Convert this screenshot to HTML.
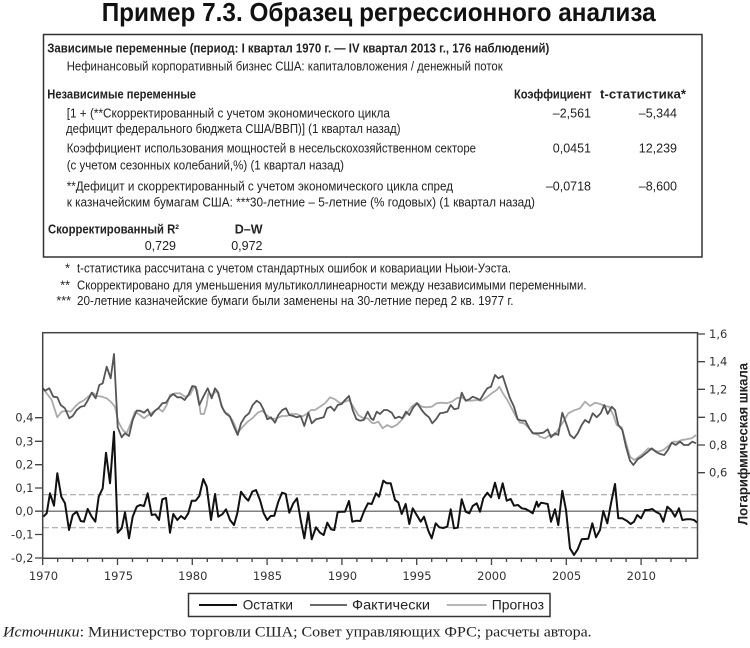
<!DOCTYPE html>
<html>
<head>
<meta charset="utf-8">
<style>
html,body{margin:0;padding:0;background:#fff;}
svg{display:block;}
.n{font-family:"Liberation Sans Narrow","Liberation Sans",sans-serif;}
.t{font-family:"DejaVu Sans","Liberation Sans",sans-serif;}
.s{font-family:"Liberation Serif",serif;}
</style>
</head>
<body>
<svg width="750" height="648" viewBox="0 0 750 648" xmlns="http://www.w3.org/2000/svg">
<rect width="750" height="648" fill="#fff"/>

<!-- Title -->
<text class="n" x="101.7" y="21" font-size="26" font-weight="bold" fill="#111" textLength="554" lengthAdjust="spacingAndGlyphs">Пример 7.3. Образец регрессионного анализа</text>

<!-- Table box -->
<rect x="43.5" y="34.5" width="658.5" height="222.5" fill="none" stroke="#333" stroke-width="1.5"/>

<g class="n" font-size="12.5" fill="#222">
<text x="47.3" y="52.7" font-weight="bold" textLength="502" lengthAdjust="spacingAndGlyphs">Зависимые переменные (период: I квартал 1970 г. — IV квартал 2013 г., 176 наблюдений)</text>
<text x="66.7" y="70.5" textLength="436" lengthAdjust="spacingAndGlyphs">Нефинансовый корпоративный бизнес США: капиталовложения / денежный поток</text>
<text x="47.3" y="98.3" font-weight="bold" textLength="148.7" lengthAdjust="spacingAndGlyphs">Независимые переменные</text>
<text x="514" y="98.3" font-weight="bold" textLength="77.7" lengthAdjust="spacingAndGlyphs">Коэффициент</text>
<text x="600" y="98.3" font-weight="bold" textLength="86" lengthAdjust="spacingAndGlyphs">t-статистика*</text>

<text x="66.7" y="117.3" textLength="323.3" lengthAdjust="spacingAndGlyphs">[1 + (**Скорректированный с учетом экономического цикла</text>
<text x="591" y="117.3" text-anchor="end">–2,561</text>
<text x="677" y="117.3" text-anchor="end">–5,344</text>
<text x="66" y="133" textLength="334.5" lengthAdjust="spacingAndGlyphs">дефицит федерального бюджета США/ВВП)] (1 квартал назад)</text>

<text x="66.7" y="152.5" textLength="409.3" lengthAdjust="spacingAndGlyphs">Коэффициент использования мощностей в несельскохозяйственном секторе</text>
<text x="591" y="152.5" text-anchor="end">0,0451</text>
<text x="677" y="152.5" text-anchor="end">12,239</text>
<text x="66.7" y="169.5" textLength="277.3" lengthAdjust="spacingAndGlyphs">(с учетом сезонных колебаний,%) (1 квартал назад)</text>

<text x="66.7" y="190.5" textLength="386.3" lengthAdjust="spacingAndGlyphs">**Дефицит и скорректированный с учетом экономического цикла спред</text>
<text x="591" y="190.5" text-anchor="end">–0,0718</text>
<text x="677" y="190.5" text-anchor="end">–8,600</text>
<text x="66.7" y="206.7" textLength="468.3" lengthAdjust="spacingAndGlyphs">к казначейским бумагам США: ***30-летние – 5-летние (% годовых) (1 квартал назад)</text>

<text x="48" y="233.7" font-weight="bold" textLength="131" lengthAdjust="spacingAndGlyphs">Скорректированный R²</text>
<text x="262.5" y="233.7" font-weight="bold" text-anchor="end">D–W</text>
<text x="176" y="250" text-anchor="end">0,729</text>
<text x="262.5" y="250" text-anchor="end">0,972</text>

<text x="70" y="272.7" text-anchor="end">*</text>
<text x="77" y="272.7" textLength="434" lengthAdjust="spacingAndGlyphs">t-статистика рассчитана с учетом стандартных ошибок и ковариации Ньюи-Уэста.</text>
<text x="70" y="289.4" text-anchor="end">**</text>
<text x="77" y="289.4" textLength="509.5" lengthAdjust="spacingAndGlyphs">Скорректировано для уменьшения мультиколлинеарности между независимыми переменными.</text>
<text x="71" y="305" text-anchor="end">***</text>
<text x="77" y="305" textLength="436.5" lengthAdjust="spacingAndGlyphs">20-летние казначейские бумаги были заменены на 30-летние перед 2 кв. 1977 г.</text>
</g>

<!-- Chart reference lines -->
<line x1="43" y1="494.7" x2="697.5" y2="494.7" stroke="#9a9a9a" stroke-width="1" stroke-dasharray="6,3"/>
<line x1="43" y1="527.7" x2="697.5" y2="527.7" stroke="#9a9a9a" stroke-width="1" stroke-dasharray="6,3"/>
<line x1="43" y1="511.2" x2="697.5" y2="511.2" stroke="#555" stroke-width="1.2"/>

<!-- Прогноз -->
<polyline fill="none" stroke="#ababab" stroke-width="1.8" stroke-linejoin="round" points="43,388.3 46.7,393.3 51.7,400 57.3,417.3 61.7,411.7 66.7,410.7 70.7,411.7 75,406.7 79.3,402.7 83.3,400.7 88.3,396.7 92.7,392.7 97.3,396 101.7,396.7 106.7,398.3 110.7,401.7 115,406.7 118.3,421.7 122.7,430 126.7,433.3 130.7,423.3 135,411.7 140,415 144,418.3 148.3,415 153.3,411.7 158.3,408.3 162.7,411.7 166.7,405 170,395 175,393.3 180,393.3 185,396.7 190,395 194,386.7 197.3,390 200.7,414 204,414 206.7,405 208.3,393.3 212.3,395 216.7,390.7 220,400 224,411.7 228.3,414 233.3,421.7 237.7,432.7 242.3,427.3 247.7,421.7 252.3,418.3 257.7,412.7 262.3,410.7 266.7,415 271.7,419.3 276.7,418.3 281.7,416 286.7,416 291.7,414 296.7,414 301.7,416.7 306.7,414 311,410 315,410 320,406.7 325,403.3 330,397.3 335,399.3 340,403.3 345,401.7 349,400 353.3,406.7 358.3,415 363.3,418.3 367.7,418.3 371.7,422.7 374,423.3 378.3,421.7 382.7,428.3 387.3,425 391.7,427.3 396.7,425 401.7,420 406.7,413.3 411.7,406.7 416.7,402.7 421.7,406.7 426.7,407.3 431.7,406.7 436.7,403.3 441.7,402.7 446.7,403.3 451.7,401.7 456.7,398.3 461.7,397.3 466.7,400.7 471.7,400.7 476.7,400 481.7,400.7 486.7,397.3 491.7,393.3 496.7,390 499.3,386.7 503.3,394 507.3,400 511.7,408.3 516,416.7 520,422.7 524,423.3 528.3,427.3 533.3,433.3 538.3,435 540,436.7 545,438.3 550,435 555,435 559,428.3 563.3,421.7 568.3,413.3 573.3,410.7 580,408.3 585,401.7 590,406 595,402.7 600,404 605,406 609,406.7 613.3,415 616.7,425 621.7,427.3 625.7,441.7 630,456.7 634.3,460 639,456.7 643.3,453.3 648.3,448.3 653.3,450 658.3,451.7 663.3,450 668.3,446 673.3,441.7 677.7,441.7 681.7,440 686.7,439.3 691.7,438.3 696,435"/>

<!-- Фактически -->
<polyline fill="none" stroke="#555" stroke-width="1.8" stroke-linejoin="round" points="43,388.3 45,390.7 49.3,388.3 53.3,396.7 57.3,397.3 60.7,405 65,408.3 69.3,418.3 72.7,416 76.7,410 80.7,406.7 84.3,406 88,400 91.7,392.7 95.7,398.3 99.3,385 102.7,383.3 106.7,366.7 110.7,378.3 114,354 117.7,427.3 121.7,437.3 125,433.3 129,436 132.7,420 136.7,410.7 140,410.7 144,412.7 147.7,409.3 151,416 155,410.7 158.3,408.3 162.3,403.3 166,402.7 170,396.7 173.3,394 177.3,397.3 181,397.3 184.7,400 188.3,395 192.3,386 195.7,386.7 199.3,405 203.3,396.7 207.7,388.3 211.7,398.3 215,388.3 218.3,392.7 221.7,406.7 225.7,413.3 230,416.7 234,426.7 237.7,435 241,423.3 245,416.7 249,413.3 252.7,405 256.7,400.7 260.3,403.3 263.7,410 267.3,419.3 271,417.3 275,422.7 278.3,415 282.3,410 286,408.3 289.3,415 293.3,416 296.7,417.3 300.7,416 304.3,426 308.3,412.7 311.7,423.3 316,419.3 320,418.3 323.7,417.3 327,408.3 330.7,406.7 334.3,410.7 337.7,405 341.7,404 345,400 349,396 352.7,410 356.3,419 360,420.7 363.7,420 367.7,411.7 371,418.3 373.3,420 376.7,411.7 380,414 384,410 387.3,410 391.7,412.7 395,418.3 399,416.7 402.3,418.3 406,411.7 409.3,415 413.3,407.3 417.3,403.3 421.7,410 425,414 429,417.3 432.3,423.3 436,419.3 440,413.3 443.3,412.7 447.3,411.7 450.7,405 454.3,409.3 458.3,408.3 461.7,392.7 465.7,400.7 469.3,399.3 472.7,396.7 476.7,398.3 480,400 484,393.3 487.3,388.3 491,386.7 495,375 498.3,378.3 502.7,376 506.7,388.3 510,398.3 514,406.7 517.7,419.3 521.7,420.7 525.3,420.7 529.3,428.3 532.7,433.3 536.7,433.3 539,433.3 543.3,432.7 547.7,429.3 551,437.3 555,433.3 558.3,435 562.3,412.7 566.7,425 570,435 574,438.3 577.7,433.3 581.7,425 585,420 589,422.7 592.7,413.3 596.7,417.3 600.7,413.3 604.3,405 607.7,414 611.7,406.7 615,410 618.3,425 622.3,430 626,446.7 630,460.7 633.3,465 637.7,459.3 641.7,456.7 646.7,452.7 651.7,448.3 655.7,451.7 660,454 664.3,455 668.3,449.3 671.7,442.7 675.7,445 680,441.7 684,445 688.3,445 692.3,441.7 696,443.3"/>

<!-- Остатки -->
<polyline fill="none" stroke="#111" stroke-width="2" stroke-linejoin="round" points="43.3,516.7 46.7,513.3 50,493.3 54,505.7 57.3,473.3 61.3,496.7 65,503.3 69,530 72.7,515 76.7,511.7 80.7,521 84,521.7 87.7,509 91.7,516.7 95.3,521.7 98.7,496.7 102.7,488.3 106,452.7 110,483.3 114,431.7 117.7,532.7 121.7,528.3 125,512.3 129,538.3 132.7,516.7 136.7,506.7 140,505 144,506 147.7,493.3 151.7,515 155.3,514.3 159,520 162.3,499.3 166,498 170,532.7 173.3,514 177.3,520 181,516 184.7,519 188.3,513.3 191.7,500.7 195.7,500.7 199.3,496 203.3,479 206.7,486.7 211,520 215,494 218.3,516.7 222.3,514.3 226,509.3 230,520 234,525 237.3,513.3 241,491.7 245,497.3 248.3,500.7 252.3,491.7 256,490 260,500 263.7,513.3 267.3,520 270.7,516 274.3,515.7 278.3,501.7 282,492.7 285.7,494 289.3,512.7 293.3,503.3 297,498.3 300.7,520 304.3,538.3 308.3,512.3 311.7,539.3 316,527.3 320,532.7 323.7,535 327.3,522.7 331,529.3 334.3,530 337.7,512 341.7,511.7 345,511.7 349,501 352.3,521.7 356.7,520.7 360.3,521 364.3,510.7 368,503.3 371.7,504 376,493.3 379,496.7 383.3,480.7 386.7,483.3 390.7,483.3 395,500 398.3,502.3 401.7,514 405.7,504 409.3,524 412.7,508.3 416.7,515 420.7,521.7 424,516.7 428.3,530.7 431.7,538.3 435.7,523.3 439.3,527.3 443.3,528 447.3,526.7 450.7,509.3 454,528.3 457.7,527.7 461.7,499.3 465.7,511.7 469.3,513.3 472.7,506 476.7,503.3 480,511.7 483.3,498.3 487.3,492.7 491,497.3 495,482.7 499,498.3 502.7,483.3 506.7,500.7 510.7,499 514,505.7 518,505 521.7,508.3 525.7,509 529.3,511 532.7,513.3 536.7,501.7 538.3,506.7 541,502.7 544.3,503.3 547.7,504 551,521.7 555,509.3 558.3,525 562.3,490.7 566,510 570,548.3 574,555 577.7,549.3 581.7,539.3 588.3,538.7 592.3,523.3 596,537.3 600,530 603.3,511 607.3,523.3 611,503.3 615,484 618.3,518.3 622.3,518.3 626.7,520.7 630.7,524 634,521.7 637.3,515 641,518.3 645,510 648.3,510 652.3,509 655.7,511.7 660,514 663.3,521.7 667.3,506.7 671,510 675,516.7 679,508.3 682.3,520 686.7,519.3 690.7,519.3 694,520 697.3,522.7"/>

<!-- Frame -->
<rect x="42.7" y="332.7" width="654.8" height="225.6" fill="none" stroke="#444" stroke-width="1.5"/>

<!-- Left ticks -->
<path d="M35,417.7H42.7 M35,441.3H42.7 M35,464.7H42.7 M35,488H42.7 M35,511.2H42.7 M35,534.5H42.7 M35,558H42.7" stroke="#444" stroke-width="1.3"/>
<!-- Right ticks -->
<path d="M697.5,334H705 M697.5,361.7H705 M697.5,389.3H705 M697.5,417.3H705 M697.5,445H705 M697.5,472.7H705" stroke="#444" stroke-width="1.3"/>
<!-- Bottom ticks -->
<path stroke="#444" stroke-width="1.3" d="M42.7,558V565 M57.7,558V562 M72.6,558V562 M87.6,558V562 M102.5,558V562 M117.5,558V565 M132.5,558V562 M147.4,558V562 M162.4,558V562 M177.3,558V562 M192.3,558V565 M207.3,558V562 M222.2,558V562 M237.2,558V562 M252.1,558V562 M267.1,558V565 M282.1,558V562 M297,558V562 M312,558V562 M326.9,558V562 M341.9,558V565 M356.9,558V562 M371.8,558V562 M386.8,558V562 M401.7,558V562 M416.7,558V565 M431.7,558V562 M446.6,558V562 M461.6,558V562 M476.5,558V562 M491.5,558V565 M506.5,558V562 M521.4,558V562 M536.4,558V562 M551.3,558V562 M566.3,558V565 M581.3,558V562 M596.2,558V562 M611.2,558V562 M626.1,558V562 M641.1,558V565 M656.1,558V562 M671,558V562 M686,558V562"/>

<!-- Left labels -->
<g class="t" font-size="11.5" fill="#333" text-anchor="end">
<text x="33.5" y="421.7">0,4</text>
<text x="33.5" y="445.3">0,3</text>
<text x="33.5" y="468.7">0,2</text>
<text x="33.5" y="492">0,1</text>
<text x="33.5" y="515.2">0,0</text>
<text x="33.5" y="538.5">-0,1</text>
<text x="33.5" y="562">-0,2</text>
</g>
<!-- Right labels -->
<g class="t" font-size="11.5" fill="#333">
<text x="709" y="338">1,6</text>
<text x="709" y="365.7">1,4</text>
<text x="709" y="393.3">1,2</text>
<text x="709" y="421.3">1,0</text>
<text x="709" y="449">0,8</text>
<text x="709" y="476.7">0,6</text>
</g>
<!-- Bottom labels -->
<g class="t" font-size="11.5" fill="#333" text-anchor="middle">
<text x="43.5" y="580">1970</text>
<text x="118.5" y="580">1975</text>
<text x="192.8" y="580">1980</text>
<text x="267.5" y="580">1985</text>
<text x="342.5" y="580">1990</text>
<text x="417" y="580">1995</text>
<text x="491.8" y="580">2000</text>
<text x="566.6" y="580">2005</text>
<text x="641.3" y="580">2010</text>
</g>

<!-- Right axis title -->
<text class="n" transform="translate(747.5,444) rotate(-90)" text-anchor="middle" font-size="13.5" font-weight="bold" fill="#222" textLength="162" lengthAdjust="spacingAndGlyphs">Логарифмическая шкала</text>

<!-- Legend -->
<rect x="188.5" y="593.5" width="361.5" height="23" fill="#fff" stroke="#333" stroke-width="1.5"/>
<line x1="199" y1="605" x2="237" y2="605" stroke="#111" stroke-width="2"/>
<line x1="310" y1="605" x2="347" y2="605" stroke="#555" stroke-width="1.8"/>
<line x1="446.7" y1="605" x2="486.7" y2="605" stroke="#ababab" stroke-width="1.8"/>
<g class="n" font-size="14" fill="#222">
<text x="242.7" y="609.7" textLength="50.3" lengthAdjust="spacingAndGlyphs">Остатки</text>
<text x="352" y="609.7" textLength="78" lengthAdjust="spacingAndGlyphs">Фактически</text>
<text x="491.7" y="609.7" textLength="52.3" lengthAdjust="spacingAndGlyphs">Прогноз</text>
</g>

<!-- Source -->
<text class="s" x="3" y="636.5" font-size="15" fill="#222" textLength="588.7" lengthAdjust="spacingAndGlyphs"><tspan font-style="italic">Источники</tspan>: Министерство торговли США; Совет управляющих ФРС; расчеты автора.</text>
</svg>
</body>
</html>
